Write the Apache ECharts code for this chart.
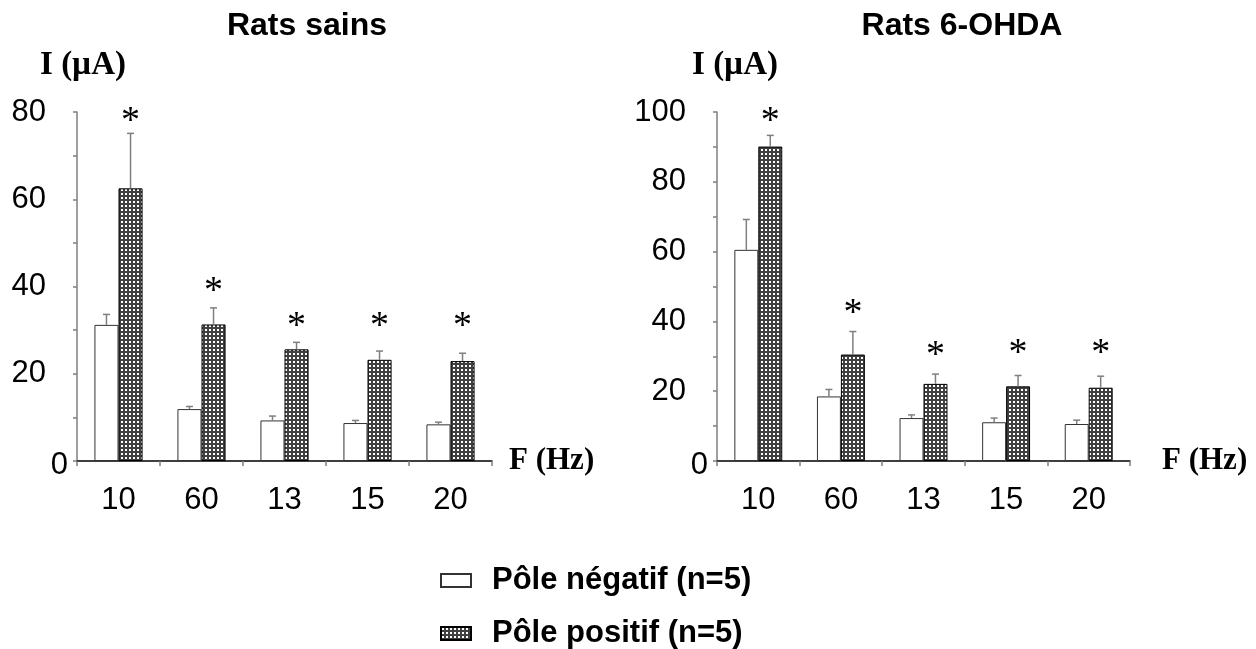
<!DOCTYPE html>
<html>
<head>
<meta charset="utf-8">
<script src="https://cdn.jsdelivr.net/npm/echarts@6/dist/echarts.min.js"></script>
<style>html,body{margin:0;padding:0;background:#fff;}#c{width:1256px;height:649px;}</style>
</head>
<body>
<div id="c"></div>
<script>
// ---- data ----
const categories = ['10', '60', '13', '15', '20'];
const seriesNames = ['Pôle négatif (n=5)', 'Pôle positif (n=5)'];
const titles = ['Rats sains', 'Rats 6-OHDA'];
const leftNeg = [31.2, 11.9, 9.3, 8.7, 8.4];
const leftNegErr = [2.4, 0.6, 1.0, 0.6, 0.5];
const leftPos = [62.5, 31.3, 25.6, 23.2, 22.9];
const leftPosErr = [12.6, 3.8, 1.6, 2.0, 1.8];
const leftStars = [80, 41, 33, 33, 33];
const rightNeg = [60.5, 18.5, 12.3, 11.1, 10.6];
const rightNegErr = [8.7, 2.0, 0.9, 1.2, 1.1];
const rightPos = [90.1, 30.5, 22.1, 21.4, 21.0];
const rightPosErr = [3.2, 6.6, 2.8, 3.1, 3.3];
const rightStars = [100, 45, 33, 33.5, 33.5];
const leftTicks = [0, 20, 40, 60, 80];
const rightTicks = [0, 20, 40, 60, 80, 100];

// ---- styles ----
const SANS = 'Liberation Sans, Arial, sans-serif';
const SERIF = 'Liberation Serif, Times New Roman, serif';
const BAR_FRAC = 0.29;

const pat = document.createElement('canvas');
pat.width = 4; pat.height = 4;
const pc = pat.getContext('2d');
pc.fillStyle = '#404040'; pc.fillRect(0, 0, 4, 4);
pc.fillStyle = '#ffffff'; pc.fillRect(1, 1, 2, 2);
const patternFill = { image: pat, repeat: 'repeat' };

function errData(vals, errs) { return vals.map((v, i) => [i, v, errs[i]]); }
function starData(vals) { return vals.map((v, i) => [i, v]); }

function errRender(sign) {
  return function (params, api) {
    const i = api.value(0), v = api.value(1), e = api.value(2);
    const band = api.size([1, 0])[0];
    const off = sign * band * BAR_FRAC / 2;
    const p0 = api.coord([i, v]);
    const p1 = api.coord([i, v + e]);
    const x = p0[0] + off;
    const st = { stroke: '#7f7f7f', lineWidth: 1.5 };
    return { type: 'group', children: [
      { type: 'line', shape: { x1: x, y1: p0[1], x2: x, y2: p1[1] }, style: st },
      { type: 'line', shape: { x1: x - 3.5, y1: p1[1], x2: x + 3.5, y2: p1[1] }, style: st }
    ]};
  };
}
function starRender(params, api) {
  const i = api.value(0), v = api.value(1);
  const band = api.size([1, 0])[0];
  const p = api.coord([i, v]);
  return { type: 'text', x: p[0] + band * BAR_FRAC / 2, y: p[1] + 10,
    style: { text: '*', font: '38px ' + SERIF, fill: '#000', align: 'center', verticalAlign: 'middle' } };
}

function yAxisDef(gi, max, ticks, namePad) {
  return {
    type: 'value', gridIndex: gi, min: 0, max: max, interval: 10,
    name: 'I (µA)', nameLocation: 'end', nameGap: 30,
    nameTextStyle: { fontFamily: SERIF, fontWeight: 'bold', fontSize: 33, color: '#000', align: 'center', padding: [0, 0, 0, namePad] },
    axisLine: { show: true, lineStyle: { color: '#7f7f7f', width: 1.5 } },
    axisTick: { show: true, length: 4, lineStyle: { color: '#7f7f7f', width: 1.5 } },
    splitLine: { show: false },
    axisLabel: {
      margin: 9,
      formatter: v => ticks.indexOf(v) < 0 ? '' : (v === 0 ? '{z|0}' : '{n|' + v + '}'),
      rich: {
        z: { fontFamily: SANS, fontSize: 31, color: '#000', padding: [8, 0, 0, 0] },
        n: { fontFamily: SANS, fontSize: 31, color: '#000', padding: [0, 22, 0, 0] }
      }
    }
  };
}
function xAxisDef(gi, nameGap) {
  return {
    type: 'category', gridIndex: gi, data: categories,
    name: 'F (Hz)', nameLocation: 'end', nameGap: nameGap,
    nameTextStyle: { fontFamily: SERIF, fontWeight: 'bold', fontSize: 31, color: '#000', padding: [12, 0, 0, 0] },
    axisLine: { show: true, lineStyle: { color: '#000', width: 1.5 } },
    axisTick: { show: true, length: 5, inside: false, lineStyle: { color: '#7f7f7f', width: 1.5 } },
    axisLabel: { fontFamily: SANS, fontSize: 31, color: '#000', margin: 24 }
  };
}
function barSeries(gi, name, data, filled) {
  return {
    type: 'bar', name: name, xAxisIndex: gi, yAxisIndex: gi, data: data,
    barWidth: (BAR_FRAC * 100) + '%', barGap: '0%',
    itemStyle: filled ? { color: patternFill, borderColor: '#000', borderWidth: 1 }
                      : { color: '#fff', borderColor: '#333', borderWidth: 1 },
    emphasis: { disabled: true }, silent: true, z: 2
  };
}
function errSeries(gi, vals, errs, sign) {
  return { type: 'custom', xAxisIndex: gi, yAxisIndex: gi, data: errData(vals, errs),
    renderItem: errRender(sign), silent: true, z: 3 };
}
function starSeries(gi, vals) {
  return { type: 'custom', xAxisIndex: gi, yAxisIndex: gi, data: starData(vals),
    renderItem: starRender, silent: true, z: 3 };
}

const chart = echarts.init(document.getElementById('c'), null, { renderer: 'canvas' });
chart.setOption({
  animation: false,
  backgroundColor: '#fff',
  title: [
    { text: titles[0], left: 302, top: 5, textAlign: 'center', textStyle: { fontFamily: SANS, fontWeight: 'bold', fontSize: 32, color: '#000' } },
    { text: titles[1], left: 957, top: 5, textAlign: 'center', textStyle: { fontFamily: SANS, fontWeight: 'bold', fontSize: 32, color: '#000' } }
  ],
  grid: [
    { left: 77, top: 112, width: 415, height: 349 },
    { left: 717, top: 112, width: 413, height: 349 }
  ],
  xAxis: [xAxisDef(0, 17), xAxisDef(1, 32)],
  yAxis: [yAxisDef(0, 80, leftTicks, 12), yAxisDef(1, 100, rightTicks, 36)],
  legend: {
    orient: 'vertical', left: 440, top: 565, padding: 0, itemWidth: 30, itemHeight: 13, itemGap: 22,
    icon: 'rect',
    data: seriesNames,
    formatter: n => '{t|' + n + '}',
    textStyle: { rich: { t: { fontFamily: SANS, fontSize: 31, lineHeight: 30, fontWeight: 'bold', color: '#000', padding: [0, 0, 0, 16] } } }
  },
  series: [
    barSeries(0, seriesNames[0], leftNeg, false),
    barSeries(0, seriesNames[1], leftPos, true),
    errSeries(0, leftNeg, leftNegErr, -1),
    errSeries(0, leftPos, leftPosErr, 1),
    starSeries(0, leftStars),
    barSeries(1, seriesNames[0], rightNeg, false),
    barSeries(1, seriesNames[1], rightPos, true),
    errSeries(1, rightNeg, rightNegErr, -1),
    errSeries(1, rightPos, rightPosErr, 1),
    starSeries(1, rightStars)
  ]
});
</script>
</body>
</html>
